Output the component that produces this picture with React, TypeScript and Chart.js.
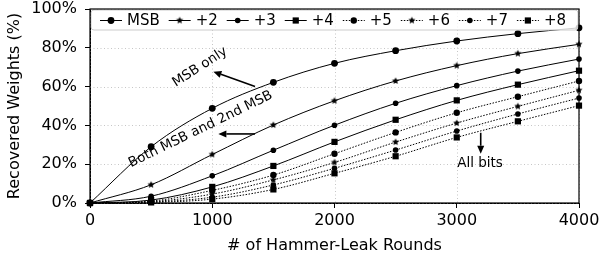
import React, { useEffect, useRef } from 'react';
import { Chart, registerables } from 'chart.js';

Chart.register(...registerables);

const rounds = [0, 500, 1000, 1500, 2000, 2500, 3000, 3500, 4000];
const seriesLabels = ['MSB', '+2', '+3', '+4', '+5', '+6', '+7', '+8'];
const msb = [0, 29, 48.8, 62.2, 72, 78.5, 83.5, 87.3, 90.3];
const bit2 = [0, 9.4, 25, 40.2, 52.7, 62.9, 70.8, 77, 81.8];
const bit3 = [0, 3.5, 14, 27.2, 40.1, 51.4, 60.5, 68, 74.2];
const bit4 = [0, 1.5, 8.3, 19.1, 31.5, 42.9, 52.9, 61, 68.2];
const bit5 = [0, 1, 6.5, 14.4, 25.4, 36.4, 46.5, 54.8, 62.9];
const bit6 = [0, 0.7, 4.6, 11.9, 20.9, 31.4, 41.2, 49.8, 58.1];
const bit7 = [0, 0.5, 3, 9.3, 17.9, 27.3, 37.1, 45.9, 54.1];
const bit8 = [0, 0.3, 2, 7, 15.3, 24.1, 33.8, 42.1, 50.2];
const seriesValues = [msb, bit2, bit3, bit4, bit5, bit6, bit7, bit8];
const xTicks = [0, 1000, 2000, 3000, 4000];
const yTicks = [0, 20, 40, 60, 80, 100];
const annotationTexts = ['MSB only', 'Both MSB and 2nd MSB', 'All bits'];

const FONT = '"DejaVu Sans", "Liberation Sans", sans-serif';

type MarkerKind = 'circle' | 'rect' | 'star';
const markerKinds: MarkerKind[] = ['circle', 'star', 'circle', 'rect', 'circle', 'star', 'circle', 'rect'];
const markerSizes = [3.4, 3.2, 2.8, 3.1, 3.2, 3.2, 2.8, 3.1];
const dotted = [false, false, false, false, true, true, true, true];

function makeStar(r: number): HTMLCanvasElement {
  const s = Math.ceil(2 * r + 2);
  const c = document.createElement('canvas');
  c.width = s;
  c.height = s;
  const ctx = c.getContext('2d')!;
  ctx.fillStyle = '#000';
  ctx.beginPath();
  for (let i = 0; i < 10; i++) {
    const a = -Math.PI / 2 + (i * Math.PI) / 5;
    const rr = i % 2 === 0 ? r : r * 0.45;
    const x = s / 2 + rr * Math.cos(a);
    const y = s / 2 + rr * Math.sin(a);
    if (i === 0) ctx.moveTo(x, y);
    else ctx.lineTo(x, y);
  }
  ctx.closePath();
  ctx.fill();
  return c;
}

function drawMarker(ctx: CanvasRenderingContext2D, kind: MarkerKind, r: number, x: number, y: number, star?: HTMLCanvasElement) {
  ctx.fillStyle = '#000';
  if (kind === 'circle') {
    ctx.beginPath();
    ctx.arc(x, y, r, 0, Math.PI * 2);
    ctx.fill();
  } else if (kind === 'rect') {
    ctx.fillRect(x - r, y - r, 2 * r, 2 * r);
  } else if (star) {
    ctx.drawImage(star, x - star.width / 2, y - star.height / 2);
  }
}

function drawArrow(ctx: CanvasRenderingContext2D, x1: number, y1: number, x2: number, y2: number) {
  const ang = Math.atan2(y2 - y1, x2 - x1);
  const hl = 8;
  const hw = 3.5;
  const bx = x2 - hl * Math.cos(ang);
  const by = y2 - hl * Math.sin(ang);
  ctx.strokeStyle = '#000';
  ctx.fillStyle = '#000';
  ctx.lineWidth = 1.6;
  ctx.setLineDash([]);
  ctx.beginPath();
  ctx.moveTo(x1, y1);
  ctx.lineTo(bx, by);
  ctx.stroke();
  ctx.beginPath();
  ctx.moveTo(x2, y2);
  ctx.lineTo(bx + hw * Math.sin(ang), by - hw * Math.cos(ang));
  ctx.lineTo(bx - hw * Math.sin(ang), by + hw * Math.cos(ang));
  ctx.closePath();
  ctx.fill();
}

export default function App() {
  const ref = useRef<HTMLCanvasElement | null>(null);

  useEffect(() => {
    document.body.style.margin = '0';
    const canvas = ref.current;
    if (!canvas) return;
    const stars = markerSizes.map((r) => makeStar(r + 0.6));

    const datasets = seriesLabels.map((label, i) => ({
      label,
      data: rounds.map((x, j) => ({ x, y: seriesValues[i][j] })),
      borderColor: '#000',
      backgroundColor: '#000',
      borderWidth: 1,
      borderDash: dotted[i] ? [1.5, 1.5] : [],
      pointStyle: markerKinds[i] === 'star' ? stars[i] : markerKinds[i] === 'rect' ? 'rect' : 'circle',
      pointRadius: markerKinds[i] === 'rect' ? markerSizes[i] * 1.414 : markerSizes[i],
      pointBorderWidth: 0,
      pointBackgroundColor: '#000',
      cubicInterpolationMode: 'monotone' as const,
      clip: false as any,
    }));

    const overlayPlugin = {
      id: 'overlay',
      beforeDatasetsDraw(chart: any) {
        // dotted grid lines at the axis ticks
        const { ctx, chartArea: a, scales } = chart;
        ctx.save();
        ctx.strokeStyle = '#b8b8b8';
        ctx.lineWidth = 0.8;
        ctx.setLineDash([1, 2.5]);
        scales.x.ticks.forEach((t: any) => {
          const px = Math.round(scales.x.getPixelForValue(t.value)) + 0.5;
          ctx.beginPath();
          ctx.moveTo(px, a.top);
          ctx.lineTo(px, a.bottom);
          ctx.stroke();
        });
        scales.y.ticks.forEach((t: any) => {
          const py = Math.round(scales.y.getPixelForValue(t.value)) + 0.5;
          ctx.beginPath();
          ctx.moveTo(a.left, py);
          ctx.lineTo(a.right, py);
          ctx.stroke();
        });
        ctx.restore();
      },
      afterDatasetsDraw(chart: any) {
        const { ctx, chartArea: a, scales } = chart;
        const xs = scales.x;
        const ys = scales.y;
        ctx.save();
        // annotations
        ctx.fillStyle = '#000';
        ctx.font = `13.5px ${FONT}`;
        ctx.textAlign = 'center';
        ctx.textBaseline = 'middle';
        const texts = [
          { t: annotationTexts[0], x: 900, y: 70, rot: -33 },
          { t: annotationTexts[1], x: 905, y: 38, rot: -26 },
          { t: annotationTexts[2], x: 3190, y: 20.5, rot: 0 },
        ];
        texts.forEach((o) => {
          ctx.save();
          ctx.translate(xs.getPixelForValue(o.x), ys.getPixelForValue(o.y));
          ctx.rotate((o.rot * Math.PI) / 180);
          ctx.fillText(o.t, 0, 0);
          ctx.restore();
        });
        const arrows = [
          [1350, 60, 1009, 67.7],
          [1350, 35.6, 1050, 35.6],
          [3196, 36.2, 3196, 25.4],
        ];
        arrows.forEach(([x1, y1, x2, y2]) =>
          drawArrow(ctx, xs.getPixelForValue(x1), ys.getPixelForValue(y1), xs.getPixelForValue(x2), ys.getPixelForValue(y2))
        );

        // legend
        const bx = a.left + 1;
        const by = a.top + 1;
        const bw = a.right - a.left - 2;
        const bh = 20;
        ctx.beginPath();
        if (ctx.roundRect) ctx.roundRect(bx, by, bw, bh, 3);
        else ctx.rect(bx, by, bw, bh);
        ctx.fillStyle = 'rgba(255,255,255,0.8)';
        ctx.fill();
        ctx.strokeStyle = '#cccccc';
        ctx.lineWidth = 1;
        ctx.setLineDash([]);
        ctx.stroke();

        ctx.font = `15px ${FONT}`;
        ctx.textAlign = 'left';
        ctx.textBaseline = 'middle';
        const handle = 22;
        const gapT = 5;
        const padL = 9;
        const padR = 12;
        const widths = seriesLabels.map((l) => handle + gapT + ctx.measureText(l).width);
        const total = widths.reduce((s, w) => s + w, 0);
        const extra = (bw - padL - padR - total) / (seriesLabels.length - 1);
        let cx = bx + padL;
        const cy = by + bh / 2 + 0.5;
        seriesLabels.forEach((l, i) => {
          ctx.strokeStyle = '#000';
          ctx.lineWidth = 1;
          ctx.setLineDash(dotted[i] ? [1.5, 1.5] : []);
          ctx.beginPath();
          ctx.moveTo(cx, cy);
          ctx.lineTo(cx + handle, cy);
          ctx.stroke();
          ctx.setLineDash([]);
          drawMarker(ctx, markerKinds[i], markerSizes[i], cx + handle / 2, cy, stars[i]);
          ctx.fillStyle = '#000';
          ctx.fillText(l, cx + handle + gapT, cy + 0.5);
          cx += widths[i] + extra;
        });
        ctx.restore();
      },
      afterDraw(chart: any) {
        const { ctx, chartArea: a } = chart;
        ctx.save();
        ctx.strokeStyle = '#000';
        ctx.lineWidth = 1.2;
        ctx.setLineDash([]);
        ctx.strokeRect(a.left, a.top, a.right - a.left, a.bottom - a.top);
        ctx.restore();
      },
    };

    const chart = new Chart(canvas, {
      type: 'line',
      data: { datasets: datasets as any },
      plugins: [overlayPlugin],
      options: {
        animation: false,
        responsive: false,
        maintainAspectRatio: false,
        layout: { padding: 0 },
        plugins: { legend: { display: false }, tooltip: { enabled: false } },
        elements: { line: { tension: 0.3 } },
        scales: {
          x: {
            type: 'linear',
            min: 0,
            max: 4000,
            afterBuildTicks: (s: any) => {
              s.ticks = xTicks.map((v) => ({ value: v }));
            },
            afterFit: (s: any) => {
              s.height = 54;
              s.paddingLeft = 0;
              s.paddingRight = 21;
            },
            ticks: {
              color: '#000',
              font: { family: FONT, size: 16 },
              padding: 3,
              maxRotation: 0,
              callback: (v: any) => `${v}`,
            },
            grid: {
              drawOnChartArea: false,
              tickLength: 5,
              tickColor: '#000',
              tickWidth: 1,
            },
            border: { display: true, color: '#000' },
            title: {
              display: true,
              text: '# of Hammer-Leak Rounds',
              color: '#000',
              font: { family: FONT, size: 16 },
              padding: { top: 0, bottom: 2 },
            },
          },
          y: {
            type: 'linear',
            min: 0,
            max: 100,
            afterBuildTicks: (s: any) => {
              s.ticks = yTicks.map((v) => ({ value: v }));
            },
            afterFit: (s: any) => {
              s.width = 90;
              s.paddingTop = 9;
              s.paddingBottom = 0;
            },
            ticks: {
              color: '#000',
              font: { family: FONT, size: 16 },
              padding: 8,
              callback: (v: any) => `${v}%`,
            },
            grid: {
              drawOnChartArea: false,
              tickLength: 5,
              tickColor: '#000',
              tickWidth: 1,
            },
            border: { display: true, color: '#000' },
            title: {
              display: true,
              text: 'Recovered Weights (%)',
              color: '#000',
              font: { family: FONT, size: 16 },
              padding: { top: 5, bottom: 0 },
            },
          },
        },
      } as any,
    });
    return () => chart.destroy();
  }, []);

  return (
    <div style={{ width: 600, height: 257 }}>
      <canvas ref={ref} width={600} height={257} style={{ display: 'block' }} />
    </div>
  );
}
